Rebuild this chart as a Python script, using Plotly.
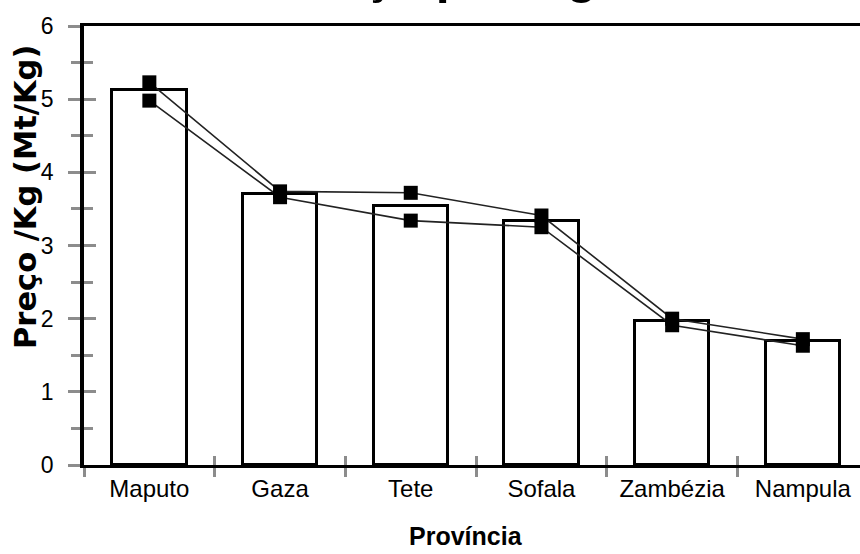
import plotly.graph_objects as go

categories = ["Maputo", "Gaza", "Tete", "Sofala", "Zambézia", "Nampula"]
bar_values = [5.13, 3.71, 3.54, 3.33, 1.97, 1.70]
series_a = [5.23, 3.74, 3.72, 3.41, 2.00, 1.72]
series_b = [4.98, 3.66, 3.34, 3.25, 1.91, 1.63]
y_ticks = [0, 1, 2, 3, 4, 5, 6]

title_text = "Preço por Kg"
y_title = "Preço /Kg (Mt/Kg)"
x_title = "Província"

SANS = "Liberation Sans, Arial, sans-serif"
GRAY = "#8c8c8c"

W, H = 860, 554
L, T, B, R = 84, 26, 89, 0
plot_w = W - L - R
plot_h = H - T - B

fig = go.Figure()
fig.add_trace(go.Bar(
    x=categories, y=bar_values, width=0.57,
    marker=dict(color="white", line=dict(color="black", width=3)),
    showlegend=False, hoverinfo="x+y",
))
for s in (series_b, series_a):
    fig.add_trace(go.Scatter(
        x=categories, y=s, mode="lines+markers",
        line=dict(color="#222222", width=1.6),
        marker=dict(symbol="square", size=14, color="black"),
        showlegend=False,
    ))
# invisible helper trace for the inside-tick overlay axes
fig.add_trace(go.Scatter(
    x=categories, y=bar_values, xaxis="x2", yaxis="y2", mode="markers",
    marker=dict(opacity=0), hoverinfo="skip", showlegend=False,
))

axis_common = dict(showgrid=False, zeroline=False, automargin=False)
fig.update_layout(
    template="none",
    width=W, height=H,
    margin=dict(l=L, r=R, t=T, b=B),
    plot_bgcolor="white", paper_bgcolor="white",
    bargap=0,
    xaxis=dict(
        **axis_common,
        type="category", categoryorder="array", categoryarray=categories,
        range=[-0.5, -0.5 + plot_w / 130.7],
        showline=True, linecolor="black", linewidth=2.5, mirror=True,
        ticks="outside", tickson="boundaries", ticklen=9, tickwidth=2.5, tickcolor=GRAY,
        tickfont=dict(family=SANS, size=24, color="black"),
    ),
    xaxis2=dict(
        **axis_common,
        type="category", categoryorder="array", categoryarray=categories,
        overlaying="x", matches="x", anchor="y",
        showline=False, showticklabels=False,
        ticks="inside", tickson="boundaries", ticklen=9, tickwidth=2.5, tickcolor=GRAY,
    ),
    yaxis=dict(
        **axis_common,
        range=[0, 6], tickvals=y_ticks,
        showline=True, linecolor="black", linewidth=3.5,
        ticks="outside", ticklen=12, tickwidth=2.5, tickcolor=GRAY,
        minor=dict(dtick=0.5, ticks="outside", ticklen=9, tickwidth=2.5, tickcolor=GRAY),
        ticklabelstandoff=10,
        tickfont=dict(family=SANS, size=23, color="black"),
    ),
    yaxis2=dict(
        **axis_common,
        range=[0, 6], tickvals=y_ticks, overlaying="y", anchor="x", side="left",
        showline=False, showticklabels=False,
        ticks="inside", ticklen=12, tickwidth=2.5, tickcolor=GRAY,
        minor=dict(dtick=0.5, ticks="inside", ticklen=9, tickwidth=2.5, tickcolor=GRAY),
    ),
    annotations=[
        dict(text=y_title, textangle=-90, xref="paper", yref="paper",
             x=-(L - 25) / plot_w, y=(465 - 197) / plot_h, xanchor="center", yanchor="middle",
             showarrow=False, font=dict(family="DejaVu Sans", size=30.5, color="black", weight="bold")),
        dict(text=x_title, xref="paper", yref="paper",
             x=(466 - L) / plot_w, y=-(536 - 465) / plot_h, xanchor="center", yanchor="middle",
             showarrow=False, font=dict(family=SANS, size=25, color="black", weight="bold")),
        dict(text=title_text, xref="paper", yref="paper",
             x=(440 - L) / plot_w, y=1 + (T + 24) / plot_h, xanchor="center", yanchor="middle",
             showarrow=False, font=dict(family=SANS, size=50, color="black", weight="bold")),
    ],
)

fig.write_html(
    "out.html",
    config={"displayModeBar": False},
    post_script="document.body.style.margin='0';document.body.style.overflow='hidden';",
)
